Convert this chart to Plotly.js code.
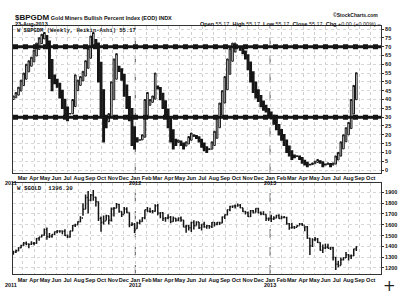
<!DOCTYPE html>
<html><head><meta charset="utf-8">
<script src="https://cdn.plot.ly/plotly-3.0.1.min.js"></script>
<style>html,body{margin:0;padding:0;background:#fff}#chart{width:409px;height:303px}</style>
</head><body><div id="chart"></div>
<script>
// ---- data ----
const firstWeek = '2011-02-04';
const weekCount = 134;

// $BPGDM weekly Heikin-Ashi bodies
const bpClose = [42,44,47,51,55,60,62,64,68,72,75,77,78,70,52,45,49,47,41,35,31,28,32,40,54,51,53,56,62,69,76,78,70,50,30,16,24,32,50,63,66,56,51,42,35,28,14,12,16,17,20,40,44,40,42,55,46,40,35,30,24,16,12,14,17,14,12,16,19,21,20,18,16,13,11,10,12,16,22,30,38,45,53,63,69,72,72,70,68,66,63,57,50,44,41,39,36,34,33,31,29,26,23,20,17,14,10,8,6,7,8,6,4,3,2,3,4,5,6,4,2,3,4,2,4,8,10,16,20,24,27,40,48,55.17];
const bpOpen = [40,41,42.5,44.8,47.9,51.5,55.7,58.9,61.4,64.7,68.4,71.7,74.4,76.2,73.1,62.6,53.8,51.4,49.2,45.1,40.1,35.6,31.8,31.9,36,45,48,50.5,53.3,57.7,63.4,69.7,73.9,72,61,45.5,30.8,27.4,29.7,39.9,51.5,58.8,57.4,54.2,48.1,41.6,34.8,24.4,18.2,17.1,17.1,18.6,29.3,36.7,38.4,40.2,47.6,46.8,43.4,39.2,34.6,29.3,22.7,17.4,15.7,16.4,15.2,13.6,14.8,16.9,19,19.5,18.8,17.4,15.2,13.1,11.6,11.8,13.9,18,24,31,38,45.5,54.3,61.7,66.9,69.5,69.8,68.9,67.5,65.3,61.2,55.6,49.8,45.4,42.2,39.1,36.6,34.8,32.9,31,28.5,25.8,22.9,20,17,13.5,10.8,8.4,7.7,7.9,7,5.5,4.3,3.2,3.1,3.6,4.3,5.2,4.6,3.3,3.2,3.6,2.8,3.4,5.7,7.9,12,16,20,23.5,31.8,39.9];
const bpLevels = [30, 70];

// $GOLD weekly bars
const gClose = [1348,1360,1388,1409,1429,1421,1419,1428,1429,1474,1486,1504,1556,1491,1493,1510,1536,1542,1543,1539,1500,1486,1542,1594,1601,1628,1663,1744,1852,1828,1876,1856,1814,1658,1620,1636,1683,1642,1747,1754,1788,1724,1696,1746,1713,1598,1606,1566,
 1617,1631,1664,1739,1725,1724,1725,1776,1710,1711,1659,1662,1669,1631,1660,1642,1663,1645,1579,1592,1573,1622,1590,1626,1572,1604,1579,1590,1583,1622,1606,1621,1616,1671,1692,1740,1770,1773,1773,1780,1758,1724,1711,1676,1730,1714,1751,1713,1703,1696,1657,1657,
 1656,1662,1687,1658,1667,1667,1609,1573,1576,1577,1592,1607,1596,1581,1476,1404,1462,1469,1435,1365,1386,1392,1383,1387,1297,1234,1223,1277,1295,1322,1310,1313,1376,1396.3];
const gHigh = [1360,1371,1392,1416,1440,1445,1424,1447,1440,1477,1487,1509,1566,1575,1524,1513,1538,1552,1549,1545,1558,1510,1545,1597,1610,1632,1680,1800,1880,1912,1885,1921,1860,1815,1677,1686,1692,1685,1760,1765,1802,1795,1725,1765,1762,1714,1623,1616,
 1627,1650,1670,1740,1764,1758,1738,1790,1792,1715,1716,1672,1698,1682,1676,1663,1667,1677,1645,1601,1597,1628,1641,1632,1626,1605,1627,1598,1597,1626,1625,1626,1627,1676,1695,1741,1777,1779,1788,1796,1792,1758,1727,1724,1737,1737,1753,1755,1723,1725,1697,1668,
 1694,1679,1694,1697,1683,1681,1675,1616,1619,1588,1596,1616,1616,1587,1589,1480,1476,1487,1477,1439,1417,1424,1424,1397,1394,1302,1267,1297,1299,1348,1330,1325,1378,1400];
const gLow = [1323,1339,1355,1382,1405,1411,1382,1413,1410,1425,1452,1484,1500,1462,1478,1479,1506,1521,1526,1512,1496,1478,1482,1540,1579,1600,1624,1683,1743,1705,1817,1823,1770,1635,1535,1602,1640,1603,1630,1677,1754,1711,1672,1702,1707,1578,1588,1523,
 1564,1605,1627,1652,1715,1712,1706,1721,1688,1661,1635,1627,1651,1613,1629,1627,1633,1627,1577,1527,1548,1532,1557,1594,1562,1547,1573,1563,1564,1570,1585,1595,1597,1614,1653,1686,1725,1756,1750,1768,1754,1718,1696,1673,1673,1704,1713,1705,1688,1690,1635,1636,
 1626,1645,1661,1655,1651,1662,1601,1554,1564,1562,1576,1596,1591,1540,1470,1321,1395,1447,1431,1359,1339,1375,1381,1366,1269,1180,1207,1224,1268,1293,1270,1283,1311,1357];
const gFirstOpen = 1335;

const yearLabels = ['2011', '2012', '2013'];
const yearStarts = ['2011-01-01', '2012-01-01', '2013-01-01'];

// ---- build ----
const weeks = [];
{ const t0 = Date.parse(firstWeek + 'T00:00:00Z');
  for (let i = 0; i < weekCount; i++) weeks.push(new Date(t0 + i * 7 * 86400000).toISOString().slice(0, 10)); }
const bpHigh = bpOpen.map((o, i) => Math.max(o, bpClose[i]));
const bpLow = bpOpen.map((o, i) => Math.min(o, bpClose[i]));
const gOpen = [gFirstOpen].concat(gClose.slice(0, -1));

const ink = '#151515';
const traces = [
  { type: 'candlestick', x: weeks, open: bpOpen, high: bpHigh, low: bpLow, close: bpClose,
    xaxis: 'x', yaxis: 'y', whiskerwidth: 0, hoverinfo: 'skip', showlegend: false,
    increasing: { line: { color: ink, width: 1 }, fillcolor: '#ffffff' },
    decreasing: { line: { color: ink, width: 1.3 }, fillcolor: ink } },
  { type: 'ohlc', x: weeks, open: gOpen, high: gHigh, low: gLow, close: gClose,
    xaxis: 'x2', yaxis: 'y2', tickwidth: 0.4, hoverinfo: 'skip', showlegend: false,
    increasing: { line: { color: ink, width: 1.5 } },
    decreasing: { line: { color: ink, width: 1.5 } } }
];

const W = 409, H = 303;
const px = v => v / W, py = v => 1 - v / H;
const tf = { family: 'Liberation Sans, Arial, sans-serif', size: 5.5, color: '#111' };
const tfb = Object.assign({}, tf, { weight: 'bold' });
const xCommon = {
  type: 'date', range: ['2011-02-03', '2013-10-29'], domain: [px(13), px(381)],
  dtick: 'M1', tick0: '2011-01-01', tickformat: '%b', ticks: '', ticklen: 0, tickangle: 0,
  tickfont: tfb, showgrid: true, gridcolor: '#cfcfcf', griddash: 'dot', gridwidth: 1,
  showline: true, linecolor: '#333', linewidth: 1, mirror: true, zeroline: false,
  rangeslider: { visible: false }, fixedrange: true
};
const yCommon = {
  side: 'right', tickfont: tfb, ticks: 'outside', ticklen: 2, tickcolor: '#333',
  showgrid: true, gridcolor: '#d6d6d6', griddash: 'dot', gridwidth: 1,
  showline: true, linecolor: '#333', linewidth: 1, mirror: true, zeroline: false, fixedrange: true
};

const shapes = [];
bpLevels.forEach(lv => {
  shapes.push({ type: 'line', xref: 'x domain', yref: 'y', x0: 0, x1: 1, y0: lv, y1: lv, line: { color: ink, width: 3 } });
  shapes.push({ type: 'line', xref: 'x domain', yref: 'y', x0: 0, x1: 1, y0: lv, y1: lv, line: { color: ink, width: 5, dash: 'dot' } });
});
yearStarts.slice(1).forEach(d => {
  ['y', 'y2'].forEach((ya, k) => shapes.push({ type: 'line', xref: k ? 'x2' : 'x', yref: ya + ' domain', x0: d, x1: d, y0: 0, y1: 1,
    line: { color: '#555', width: 1, dash: 'dash' }, layer: 'below' }));
});

const bold = s => '<b>' + s + '</b>';
const ann = [
  { xref: 'paper', yref: 'paper', x: px(13), y: py(17), xanchor: 'left', yanchor: 'middle', showarrow: false,
    text: '<b><span style="font-size:8px">$BPGDM</span> Gold Miners Bullish Percent Index (EOD) INDX</b>', font: tf },
  { xref: 'paper', yref: 'paper', x: px(13), y: py(24), xanchor: 'left', yanchor: 'middle', showarrow: false,
    text: bold('23-Aug-2013'), font: tf },
  { xref: 'paper', yref: 'paper', x: px(383), y: py(24), xanchor: 'right', yanchor: 'middle', showarrow: false,
    text: bold('Open') + ' 55.17  ' + bold('High') + ' 55.17  ' + bold('Low') + ' 55.17  ' + bold('Close') + ' 55.17  ' + bold('Chg') + ' +0.00 (+0.00%) –', font: tf },
  { xref: 'paper', yref: 'paper', x: px(380), y: py(15), xanchor: 'right', yanchor: 'middle', showarrow: false,
    text: bold('©StockCharts.com'), font: { family: tf.family, size: 5, color: '#111' } },
  { xref: 'paper', yref: 'paper', x: px(15), y: py(30.5), xanchor: 'left', yanchor: 'middle', showarrow: false,
    text: bold('W $BPGDM (Weekly, Heikin-Ashi) 55.17'), font: { family: 'Liberation Mono, monospace', size: 5.5, color: '#111' } },
  { xref: 'paper', yref: 'paper', x: px(15), y: py(188), xanchor: 'left', yanchor: 'middle', showarrow: false,
    text: bold('W $GOLD  1396.30'), font: { family: 'Liberation Mono, monospace', size: 5.8, color: '#111' } },
  { xref: 'paper', yref: 'paper', x: px(389), y: py(286), xanchor: 'center', yanchor: 'middle', showarrow: false,
    text: '+', font: { family: 'DejaVu Sans', size: 15, color: '#222' } }
];
// year labels under both x axes
[[py(183.5), 'x'], [py(285), 'x2']].forEach(([yy, xa]) => {
  yearLabels.forEach((lab, i) => {
    if (i === 0) ann.push({ xref: 'paper', yref: 'paper', x: px(3), y: yy, xanchor: 'left', yanchor: 'middle', showarrow: false, text: bold(lab), font: tf });
    else ann.push({ xref: xa, yref: 'paper', x: yearStarts[i], y: yy, xanchor: 'center', yanchor: 'middle', showarrow: false, text: bold(lab), font: tf });
  });
});

const layout = {
  width: W, height: H, margin: { l: 0, r: 0, t: 0, b: 0 },
  paper_bgcolor: '#fff', plot_bgcolor: '#fff', showlegend: false, boxgap: 0.12,
  font: tf,
  xaxis: Object.assign({}, xCommon, { anchor: 'y' }),
  xaxis2: Object.assign({}, xCommon, { anchor: 'y2', matches: 'x' }),
  yaxis: Object.assign({}, yCommon, { domain: [py(172.5), py(26)], range: [-1.4, 81.7], dtick: 5, tick0: 0 }),
  yaxis2: Object.assign({}, yCommon, { domain: [py(274), py(183)], range: [1144, 1987], dtick: 100, tick0: 1200 }),
  shapes: shapes, annotations: ann
};

Plotly.newPlot('chart', traces, layout, { staticPlot: true, displayModeBar: false });
</script>
</body></html>
